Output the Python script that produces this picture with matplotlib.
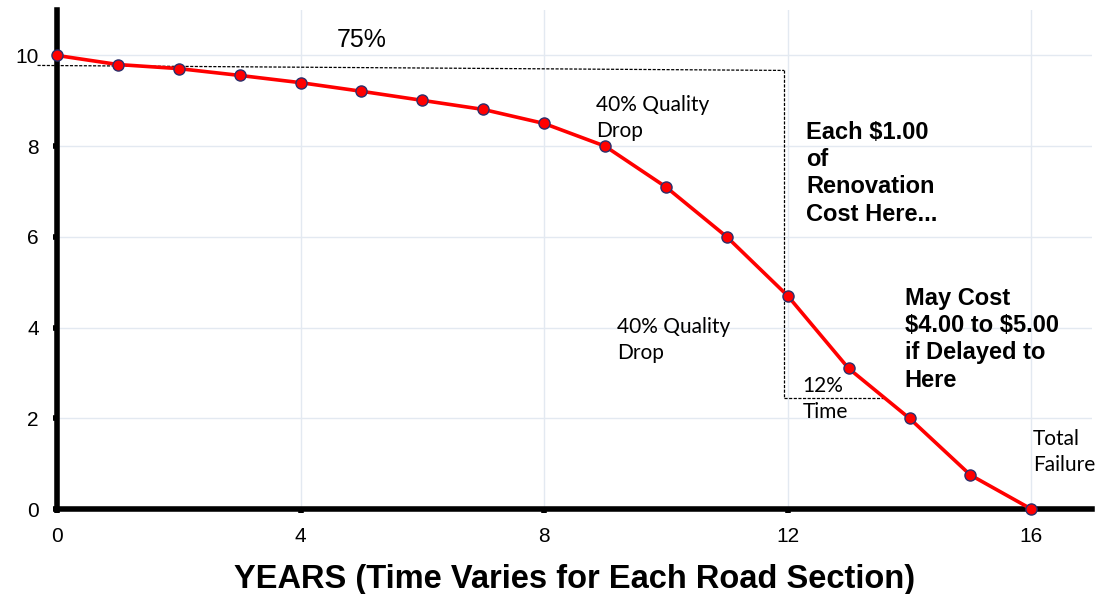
import matplotlib
matplotlib.use("Agg")
import matplotlib.pyplot as plt

years = [0, 1, 2, 3, 4, 5, 6, 7, 8, 9, 10, 11, 12, 13, 14, 15, 16]
quality = [10.0, 9.8, 9.71, 9.56, 9.4, 9.21, 9.01, 8.81, 8.5, 8.0, 7.1, 6.0, 4.7, 3.1, 2.0, 0.75, 0.0]
x_ticks = [0, 4, 8, 12, 16]
y_ticks = [0, 2, 4, 6, 8, 10]
xlabel = "YEARS (Time Varies for Each Road Section)"

# dashed guide lines (data coordinates)
guide_top_x = [-0.32, 11.94]
guide_top_y = [9.78, 9.67]
guide_vert_x = [11.94, 11.94]
guide_vert_y = [9.67, 2.44]
guide_bot_x = [11.94, 13.58]
guide_bot_y = [2.44, 2.44]

helv = ["Liberation Sans", "DejaVu Sans"]
calib = ["Lato", "DejaVu Sans"]

fig = plt.figure(figsize=(11.01, 5.94), dpi=100)
ax = fig.add_axes([0.0518, 0.143, 0.9402, 0.840])
ax.set_xlim(0, 17)
ax.set_ylim(0, 11)

ax.set_xticks(x_ticks)
ax.set_yticks(y_ticks)
ax.grid(True, color="#e3e9f1", linewidth=1.0, zorder=0)
ax.set_axisbelow(True)

for s in ["top", "right"]:
    ax.spines[s].set_visible(False)
for s in ["left", "bottom"]:
    ax.spines[s].set_linewidth(4.0)
    ax.spines[s].set_color("black")

ax.tick_params(axis="both", direction="out", length=3, width=4, color="black",
               labelsize=15, pad=10)
for lbl in ax.get_xticklabels() + ax.get_yticklabels():
    lbl.set_fontfamily(helv)

dash_kw = dict(color="black", linestyle=(0, (2.5, 1.2)), linewidth=0.9, clip_on=False, zorder=2)
ax.plot(guide_top_x, guide_top_y, **dash_kw)
ax.plot(guide_vert_x, guide_vert_y, **dash_kw)
ax.plot(guide_bot_x, guide_bot_y, **dash_kw)

ax.plot(years, quality, color="#ff0000", linewidth=2.6, marker="o", markersize=8,
        markerfacecolor="#ff0000", markeredgecolor="#2b2f6b", markeredgewidth=1.0,
        clip_on=False, zorder=5)

ax.set_xlabel(xlabel, fontsize=23.5, fontweight="bold", family=helv, labelpad=13)

# annotations
ax.text(4.6, 10.33, "75%", fontsize=18, family=helv, ha="left", va="center")
ax.text(8.85, 8.63, "40% Quality\nDrop", fontsize=15, family=calib, ha="left", va="center",
        linespacing=1.38)
ax.text(9.19, 3.73, "40% Quality\nDrop", fontsize=15, family=calib, ha="left", va="center",
        linespacing=1.38)
ax.text(12.3, 7.4, "Each \\$1.00\nof\nRenovation\nCost Here...", fontsize=17, fontweight="bold",
        family=helv, ha="left", va="center", linespacing=1.23)
ax.text(13.92, 3.74, "May Cost\n\\$4.00 to \\$5.00\nif Delayed to\nHere", fontsize=17,
        fontweight="bold", family=helv, ha="left", va="center", linespacing=1.23)
ax.text(12.24, 2.42, "12%\nTime", fontsize=15, family=calib, ha="left", va="center",
        linespacing=1.38)
ax.text(16.03, 1.25, "Total\nFailure", fontsize=15, family=calib, ha="left", va="center",
        linespacing=1.38)

fig.savefig("out.png", dpi=100)
